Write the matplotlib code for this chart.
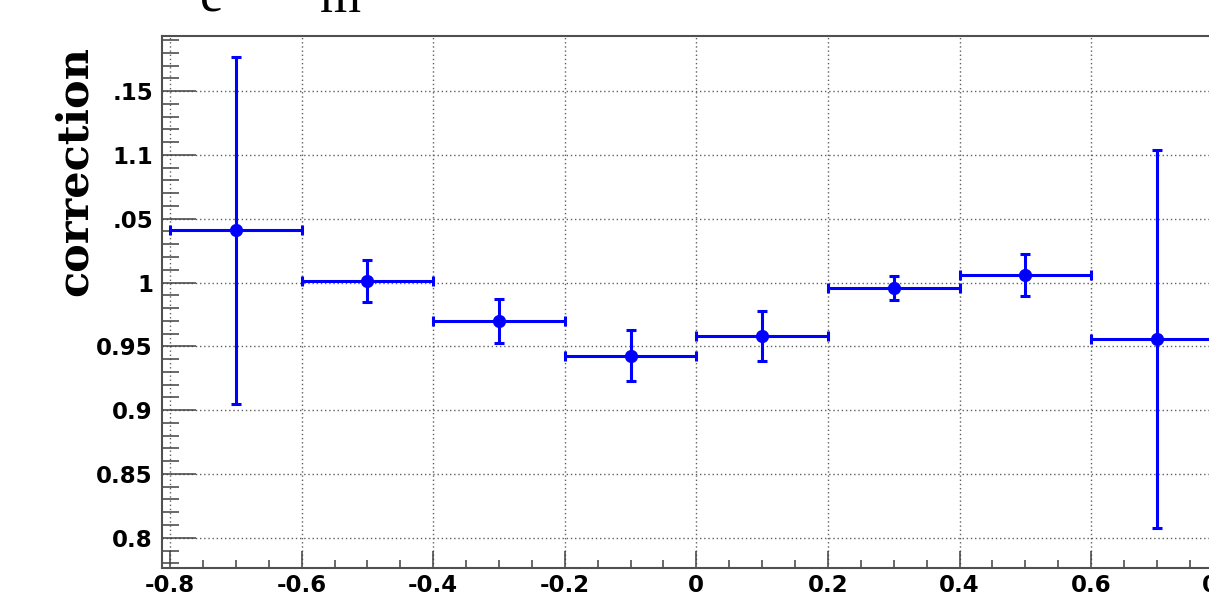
import numpy as np
import matplotlib
matplotlib.use("Agg")
import matplotlib.pyplot as plt
from matplotlib.ticker import FixedLocator, FixedFormatter, MultipleLocator

# bin centres and half widths
x_centers = [-0.7, -0.5, -0.3, -0.1, 0.1, 0.3, 0.5, 0.7]
x_halfwidth = [0.1, 0.1, 0.1, 0.1, 0.1, 0.1, 0.1, 0.1]
# correction values and errors
corr = [1.041, 1.001, 0.970, 0.9425, 0.958, 0.9955, 1.006, 0.9555]
corr_err = [0.136, 0.0165, 0.017, 0.020, 0.0195, 0.0095, 0.0165, 0.148]

y_ticks = [0.8, 0.85, 0.9, 0.95, 1.0, 1.05, 1.1, 1.15]
y_ticklabels = ["0.8", "0.85", "0.9", "0.95", "1", ".05", "1.1", ".15"]

fig = plt.figure(figsize=(12.09, 5.94), dpi=100)
ax = fig.add_axes([162 / 1209, 26 / 594, 1068.7 / 1209, 532 / 594])

ax.errorbar(x_centers, corr, xerr=x_halfwidth, yerr=corr_err, fmt='o',
            color='#0000ff', ms=8.5, elinewidth=2.2, capsize=3.5, capthick=2.2,
            zorder=3)

ax.set_xlim(-0.8122, 0.8122)
ax.set_ylim(0.7763, 1.1932)

ax.xaxis.set_major_locator(MultipleLocator(0.2))
ax.xaxis.set_minor_locator(MultipleLocator(0.05))
ax.yaxis.set_major_locator(FixedLocator(y_ticks))
ax.yaxis.set_major_formatter(FixedFormatter(y_ticklabels))
ax.yaxis.set_minor_locator(MultipleLocator(0.01))
ax.xaxis.set_major_formatter(plt.FuncFormatter(lambda v, p: "0" if abs(v) < 1e-9 else ("%g" % v)))

tick_col = '#404040'
ax.tick_params(axis='y', which='major', direction='in', length=24.5, width=1.1,
               color=tick_col, pad=6.5, labelsize=16.5)
ax.tick_params(axis='y', which='minor', direction='in', length=12, width=1.1, color=tick_col)
ax.tick_params(axis='x', which='major', direction='in', length=12, width=1.1,
               color=tick_col, pad=4, labelsize=16.5)
ax.tick_params(axis='x', which='minor', direction='in', length=6, width=1.1, color=tick_col)
for lab in ax.get_xticklabels() + ax.get_yticklabels():
    lab.set_fontweight('bold')
    lab.set_family('DejaVu Sans')

ax.grid(True, which='major', color='#606060', linestyle=(0, (1, 2)), linewidth=1.0)
ax.set_axisbelow(True)

for s in ax.spines.values():
    s.set_color('#505050')
    s.set_linewidth(1.5)

fig.text(75 / 1209, 1 - 171 / 594, "correction", rotation=90, ha='center', va='center',
         family='DejaVu Serif', fontweight='bold', fontsize=31)

fig.text(200 / 1209, 1 - 12 / 594, "e", ha='left', va='baseline',
         family='Liberation Serif', fontsize=38)
fig.text(320 / 1209, 1 - 12 / 594, "m", ha='left', va='baseline',
         family='Liberation Serif', fontsize=38)

fig.savefig("out.png", dpi=100)
